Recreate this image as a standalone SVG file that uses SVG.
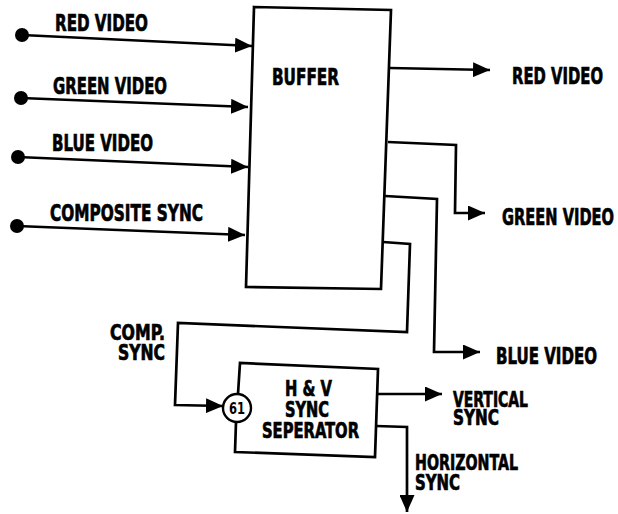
<svg xmlns="http://www.w3.org/2000/svg" width="618" height="514" viewBox="0 0 618 514">
  <defs>
    <marker id="arr" viewBox="0 0 17 15" refX="17" refY="7.5" markerWidth="17" markerHeight="15" markerUnits="userSpaceOnUse" orient="auto">
      <path d="M0,0 L17,7.5 L0,15 z" fill="#000"/>
    </marker>
    <style>
      .ln { fill: none; stroke: #000; stroke-width: 2.7; stroke-linejoin: miter; }
      .box { fill: #fff; stroke: #000; stroke-width: 2.7; }
      .t { font-family: "DejaVu Sans Condensed", "DejaVu Sans", "Liberation Sans", sans-serif; font-weight: bold; font-size: 17px; fill: #000; stroke: #000; stroke-width: 0.5px; }
      .s { font-size: 15.5px; }
      .dot { fill: #000; }
    </style>
  </defs>
  <rect width="618" height="514" fill="#fff"/>

  <g id="buffer">
    <path class="box" d="M254,7 L391,10 L381,289 L246,287 Z"/>
    <text class="t" transform="translate(272,85) scale(1,1.35)" textLength="67" lengthAdjust="spacingAndGlyphs">BUFFER</text>
  </g>

  <g id="sync-separator">
    <path class="ln" d="M238,394 L240,363 L378,369 L375,457 L235,452 L236,422"/>
    <text class="t s" transform="translate(285,396) scale(1,1.35)" textLength="47" lengthAdjust="spacingAndGlyphs">H &amp; V</text>
    <text class="t s" transform="translate(285,417) scale(1,1.35)" textLength="44" lengthAdjust="spacingAndGlyphs">SYNC</text>
    <text class="t s" transform="translate(262,438) scale(1,1.35)" textLength="97" lengthAdjust="spacingAndGlyphs">SEPERATOR</text>
  </g>

  <g id="pin-61">
    <circle cx="237" cy="408" r="14" fill="#fff" stroke="#000" stroke-width="2.4"/>
    <text transform="translate(237,414) scale(1,1.25)" text-anchor="middle" font-family="DejaVu Sans Condensed, DejaVu Sans, sans-serif" font-weight="bold" font-size="13" textLength="16" lengthAdjust="spacingAndGlyphs">61</text>
  </g>

  <g id="connectors">
    <path class="ln" d="M22,35 L252,46" marker-end="url(#arr)"/>
    <path class="ln" d="M21,98 L248,107" marker-end="url(#arr)"/>
    <path class="ln" d="M18,157 L248,167" marker-end="url(#arr)"/>
    <path class="ln" d="M17,226 L245,235" marker-end="url(#arr)"/>
    <circle class="dot" cx="22" cy="35" r="7"/>
    <circle class="dot" cx="21" cy="98" r="7"/>
    <circle class="dot" cx="18" cy="157" r="7"/>
    <circle class="dot" cx="17" cy="226" r="7"/>

    <path class="ln" d="M390,68 L490,70" marker-end="url(#arr)"/>
    <path class="ln" d="M388,142 L456,145 L455,213 L485,213" marker-end="url(#arr)"/>
    <path class="ln" d="M385,196 L437,199 L434,352 L480,352" marker-end="url(#arr)"/>
    <path class="ln" d="M383,242 L410,244 L407,332 L178,323 L175,405 L223,406" marker-end="url(#arr)"/>
    <path class="ln" d="M377,394 L442,394" marker-end="url(#arr)"/>
    <path class="ln" d="M376,426 L407,427 L407,512" marker-end="url(#arr)"/>
  </g>

  <g id="labels">
    <text class="t" transform="translate(55,31) scale(1,1.35)" textLength="93" lengthAdjust="spacingAndGlyphs">RED VIDEO</text>
    <text class="t" transform="translate(53,94) scale(1,1.35)" textLength="114" lengthAdjust="spacingAndGlyphs">GREEN VIDEO</text>
    <text class="t" transform="translate(52,151) scale(1,1.35)" textLength="101" lengthAdjust="spacingAndGlyphs">BLUE VIDEO</text>
    <text class="t" transform="translate(50,221) scale(1,1.35)" textLength="153" lengthAdjust="spacingAndGlyphs">COMPOSITE SYNC</text>

    <text class="t" transform="translate(512,84) scale(1,1.35)" textLength="91" lengthAdjust="spacingAndGlyphs">RED VIDEO</text>
    <text class="t" transform="translate(502,225) scale(1,1.35)" textLength="112" lengthAdjust="spacingAndGlyphs">GREEN VIDEO</text>
    <text class="t" transform="translate(496,364) scale(1,1.35)" textLength="101" lengthAdjust="spacingAndGlyphs">BLUE VIDEO</text>

    <text class="t s" transform="translate(110,340) scale(1,1.35)" textLength="55" lengthAdjust="spacingAndGlyphs">COMP.</text>
    <text class="t s" transform="translate(118,360) scale(1,1.35)" textLength="47" lengthAdjust="spacingAndGlyphs">SYNC</text>

    <text class="t s" transform="translate(453,407) scale(1,1.35)" textLength="75" lengthAdjust="spacingAndGlyphs">VERTICAL</text>
    <text class="t s" transform="translate(453,425) scale(1,1.35)" textLength="46" lengthAdjust="spacingAndGlyphs">SYNC</text>

    <text class="t s" transform="translate(415,470) scale(1,1.35)" textLength="103" lengthAdjust="spacingAndGlyphs">HORIZONTAL</text>
    <text class="t s" transform="translate(415,490) scale(1,1.35)" textLength="45" lengthAdjust="spacingAndGlyphs">SYNC</text>
  </g>
</svg>
